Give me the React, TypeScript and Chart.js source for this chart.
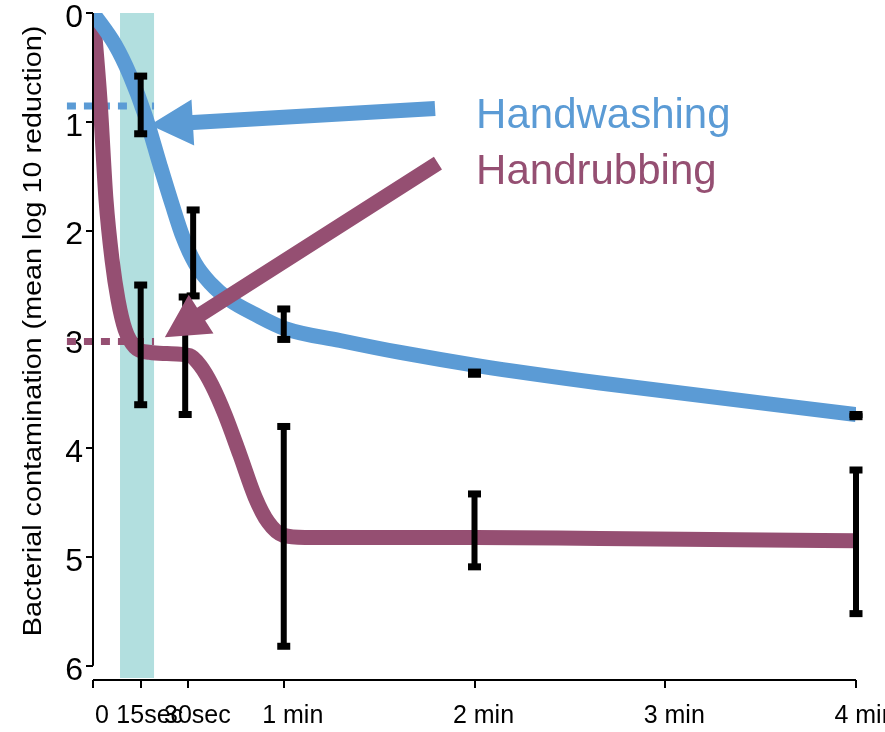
import React, { useEffect, useRef } from "react";
import { Chart, registerables } from "chart.js";
Chart.register(...registerables);

const FONT = '"Liberation Sans", Arial, Helvetica, sans-serif';
const BLUE = "#5B9BD5";
const PURPLE = "#954F72";
const TEAL = "#B2DFDF";

// x in seconds, y = mean log10 reduction
const xTickValues = [0, 15, 30, 60, 120, 180, 240];
const xTickLabels = ["0", "15sec", "30sec", "1 min", "2 min", "3 min", "4 min"];
const yTickValues = [0, 1, 2, 3, 4, 5, 6];

const washX = [0, 6.9, 11.6, 16.4, 21.1, 24.9, 28.3, 32.1, 36.8, 43.1, 51.0, 60.4, 77.7, 96.6, 120.8, 159.5, 240];
const washY = [0, 0.29, 0.57, 0.94, 1.4, 1.76, 2.06, 2.3, 2.48, 2.64, 2.77, 2.9, 3.01, 3.12, 3.24, 3.4, 3.69];

const rubX = [0, 2.2, 4.1, 6.0, 7.9, 10.1, 13.2, 17.9, 23.3, 30.5, 33.7, 37.4, 41.5, 46.2, 51.0, 55.1, 59.8, 66.7, 120.2, 159.5, 240];
const rubY = [0, 0.8, 1.72, 2.27, 2.64, 2.91, 3.07, 3.12, 3.13, 3.15, 3.24, 3.42, 3.69, 4.06, 4.45, 4.68, 4.8, 4.82, 4.82, 4.83, 4.85];

const washErrX = [15, 31.5, 60, 120, 240];
const washErrLo = [0.58, 1.81, 2.72, 3.3, 3.69];
const washErrHi = [1.11, 2.6, 3.0, 3.32, 3.71];

const rubErrX = [15, 29, 60, 120, 240];
const rubErrLo = [2.5, 2.61, 3.8, 4.42, 4.2];
const rubErrHi = [3.6, 3.69, 5.82, 5.09, 5.52];

const bandRange = [8.5, 19.2];
const refLineX = [-8.2, 19.2];
const washRefY = 0.855;
const rubRefY = 3.02;

const seriesNames = ["Handwashing", "Handrubbing"];
const labelX = [120.5, 120.5];
const labelY = [1.06, 1.57];
const arrowTailX = [107.6, 108.5];
const arrowTailY = [0.878, 1.38];
const arrowTipX = [17.9, 22.6];
const arrowTipY = [1.03, 2.98];

const yTitle = "Bacterial contamination (mean log 10 reduction)";

function pts(xs: number[], ys: number[]) {
  return xs.map((x, i) => ({ x, y: ys[i] }));
}

function drawArrow(ctx: CanvasRenderingContext2D, x1: number, y1: number, x2: number, y2: number, color: string) {
  const shaftW = 15, headL = 43, headW = 46;
  const dx = x2 - x1, dy = y2 - y1;
  const len = Math.hypot(dx, dy);
  const ux = dx / len, uy = dy / len;
  const px = -uy, py = ux;
  const bx = x2 - ux * headL, by = y2 - uy * headL;
  ctx.fillStyle = color;
  ctx.beginPath();
  ctx.moveTo(x1 + px * shaftW / 2, y1 + py * shaftW / 2);
  ctx.lineTo(bx + px * shaftW / 2, by + py * shaftW / 2);
  ctx.lineTo(bx + px * headW / 2, by + py * headW / 2);
  ctx.lineTo(x2, y2);
  ctx.lineTo(bx - px * headW / 2, by - py * headW / 2);
  ctx.lineTo(bx - px * shaftW / 2, by - py * shaftW / 2);
  ctx.lineTo(x1 - px * shaftW / 2, y1 - py * shaftW / 2);
  ctx.closePath();
  ctx.fill();
}

const customPlugin = {
  id: "custom",
  beforeDatasetsDraw(chart: any) {
    const { ctx, chartArea, scales } = chart;
    const xs = scales.x, ys = scales.y;
    ctx.save();
    ctx.fillStyle = TEAL;
    const x0 = xs.getPixelForValue(bandRange[0]);
    const x1 = xs.getPixelForValue(bandRange[1]);
    const top = ys.getPixelForValue(0);
    ctx.fillRect(x0, top, x1 - x0, chartArea.bottom - 2 - top);
    ctx.restore();
  },
  afterDatasetsDraw(chart: any) {
    const { ctx, scales } = chart;
    const xs = scales.x, ys = scales.y;
    ctx.save();
    const drawErr = (ex: number[], lo: number[], hi: number[]) => {
      ex.forEach((x, i) => {
        const px = xs.getPixelForValue(x);
        const p1 = ys.getPixelForValue(lo[i]);
        const p2 = ys.getPixelForValue(hi[i]);
        ctx.fillStyle = "#000";
        ctx.fillRect(px - 3, Math.min(p1, p2), 6, Math.abs(p2 - p1));
        ctx.fillRect(px - 6.5, p1 - 3.5, 13, 7);
        ctx.fillRect(px - 6.5, p2 - 3.5, 13, 7);
      });
    };
    drawErr(washErrX, washErrLo, washErrHi);
    drawErr(rubErrX, rubErrLo, rubErrHi);
    const colors = [BLUE, PURPLE];
    for (let i = 0; i < 2; i++) {
      drawArrow(
        ctx,
        xs.getPixelForValue(arrowTailX[i]),
        ys.getPixelForValue(arrowTailY[i]),
        xs.getPixelForValue(arrowTipX[i]),
        ys.getPixelForValue(arrowTipY[i]),
        colors[i]
      );
    }
    ctx.font = `42px ${FONT}`;
    ctx.textAlign = "left";
    ctx.textBaseline = "alphabetic";
    for (let i = 0; i < 2; i++) {
      ctx.fillStyle = colors[i];
      ctx.fillText(seriesNames[i], xs.getPixelForValue(labelX[i]), ys.getPixelForValue(labelY[i]));
    }
    ctx.restore();
  },
  afterDraw(chart: any) {
    const { ctx, scales, chartArea } = chart;
    const xs = scales.x, ys = scales.y;
    ctx.save();
    ctx.strokeStyle = "#000";
    ctx.lineWidth = 2;
    ctx.beginPath();
    const ax = xs.getPixelForValue(xTickValues[0]);
    ctx.moveTo(ax, ys.getPixelForValue(yTickValues[0]));
    ctx.lineTo(ax, ys.getPixelForValue(yTickValues[yTickValues.length - 1]));
    ctx.moveTo(xs.getPixelForValue(xTickValues[0]), chartArea.bottom);
    ctx.lineTo(xs.getPixelForValue(xTickValues[xTickValues.length - 1]), chartArea.bottom);
    ctx.stroke();
    ctx.translate(34, 331);
    ctx.rotate(-Math.PI / 2);
    ctx.scale(1.15, 1);
    ctx.font = `25px ${FONT}`;
    ctx.fillStyle = "#000";
    ctx.textAlign = "center";
    ctx.textBaseline = "middle";
    ctx.fillText(yTitle, 0, 0);
    ctx.restore();
  },
};

export default function App() {
  const ref = useRef<HTMLCanvasElement | null>(null);
  useEffect(() => {
    document.body.style.margin = "0";
    const canvas = ref.current!;
    const chart = new Chart(canvas, {
      type: "line",
      data: {
        datasets: [
          {
            data: pts(washX, washY),
            borderColor: BLUE,
            borderWidth: 15,
            pointRadius: 0,
            cubicInterpolationMode: "monotone",
            fill: false,
          },
          {
            data: pts(rubX, rubY),
            borderColor: PURPLE,
            borderWidth: 15,
            pointRadius: 0,
            cubicInterpolationMode: "monotone",
            fill: false,
          },
          {
            data: pts(refLineX, [washRefY, washRefY]),
            borderColor: BLUE,
            borderWidth: 7,
            borderDash: [9, 8],
            borderCapStyle: "butt",
            pointRadius: 0,
            clip: false,
            fill: false,
          },
          {
            data: pts(refLineX, [rubRefY, rubRefY]),
            borderColor: PURPLE,
            borderWidth: 7,
            borderDash: [9, 8],
            borderCapStyle: "butt",
            pointRadius: 0,
            clip: false,
            fill: false,
          },
        ] as any,
      },
      options: {
        animation: false,
        responsive: false,
        devicePixelRatio: 1,
        layout: { padding: { top: 13, right: 29, left: 0, bottom: 0 } },
        plugins: { legend: { display: false }, tooltip: { enabled: false }, title: { display: false } },
        scales: {
          x: {
            type: "linear",
            min: 0,
            max: 240,
            afterBuildTicks: (s: any) => {
              s.ticks = xTickValues.map((v) => ({ value: v }));
            },
            afterFit: (s: any) => {
              s.height = 52;
              s.paddingLeft = 0;
              s.paddingRight = 0;
            },
            border: { display: false },
            grid: { drawOnChartArea: false, drawTicks: true, tickLength: 8, color: "#000", lineWidth: 2 },
            ticks: {
              autoSkip: false,
              maxRotation: 0,
              minRotation: 0,
              color: "#000",
              font: { family: FONT, size: 25, lineHeight: 1 },
              padding: 16,
              labelOffset: 9,
              callback: (v: any) => {
                const i = xTickValues.indexOf(Number(v));
                return i >= 0 ? xTickLabels[i] : "";
              },
            },
          },
          y: {
            type: "linear",
            reverse: true,
            min: 0,
            max: 6.13,
            afterBuildTicks: (s: any) => {
              s.ticks = yTickValues.map((v) => ({ value: v }));
            },
            afterFit: (s: any) => {
              s.width = 93;
              s.paddingTop = 0;
              s.paddingBottom = 0;
            },
            border: { display: false },
            grid: { drawOnChartArea: false, drawTicks: true, tickLength: 7, color: "#000", lineWidth: 2 },
            ticks: {
              color: "#000",
              font: { family: FONT, size: 32 },
              padding: 3,
              labelOffset: 5,
              callback: (v: any) => String(v),
            },
          },
        },
      },
      plugins: [customPlugin],
    });
    return () => chart.destroy();
  }, []);
  return <canvas ref={ref} width={885} height={732} />;
}
